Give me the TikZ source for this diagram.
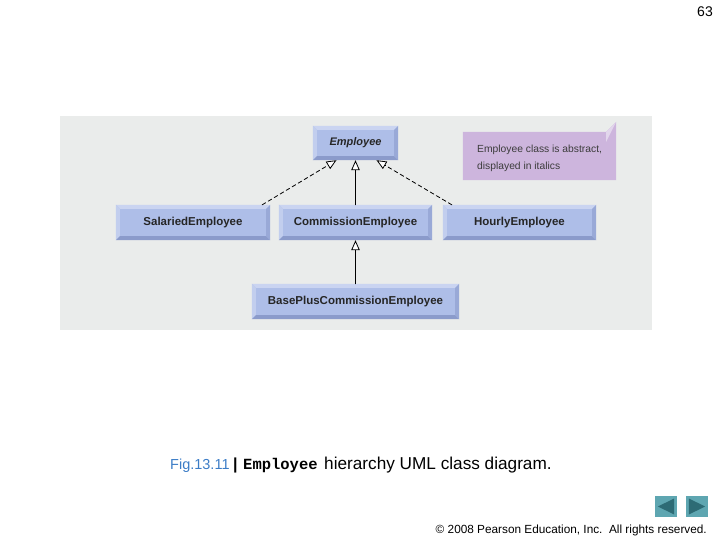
\documentclass[tikz,border=0pt]{standalone}
\usepackage{fontspec}
\setmainfont{Liberation Sans}
\setmonofont{Liberation Mono}
\usetikzlibrary{arrows.meta}

\definecolor{panelgray}{HTML}{EAECEB}
\definecolor{classfill}{HTML}{AEBEE8}
\definecolor{classlight}{HTML}{CAD4F1}
\definecolor{classdark}{HTML}{8B9BCB}
\definecolor{notefill}{HTML}{CDB5DD}
\definecolor{notefold}{HTML}{E2D6EC}
\definecolor{notetext}{HTML}{3C3C3C}
\definecolor{navteal}{HTML}{5EA6B1}
\definecolor{navdark}{HTML}{2D6B75}
\definecolor{figblue}{HTML}{3B7CC6}

% bevelled edges of a class box
\newcommand{\bevel}[1]{%
  \fill[classlight] (#1.north west) -- (#1.north east) -- ([shift={(-4,4)}]#1.north east) -- ([shift={(4,4)}]#1.north west) -- cycle;
  \fill[classlight!70!classfill] (#1.north west) -- ([shift={(4,4)}]#1.north west) -- ([shift={(4,-4)}]#1.south west) -- (#1.south west) -- cycle;
  \fill[classdark] (#1.south west) -- (#1.south east) -- ([shift={(-4,-4)}]#1.south east) -- ([shift={(4,-4)}]#1.south west) -- cycle;
  \fill[classdark!60!classfill] (#1.north east) -- (#1.south east) -- ([shift={(-4,-4)}]#1.south east) -- ([shift={(-4,4)}]#1.north east) -- cycle;
}

\begin{document}
\begin{tikzpicture}[x=1pt, y=-1pt, line cap=round, line join=round,
    classbox/.style={rectangle, fill=classfill, inner sep=0pt, minimum height=35pt,
      font=\bfseries\fontsize{11.5}{13}\selectfont, text=black!85},
    gen/.style={line width=0.8pt, -{Triangle[fill=white, length=10pt, width=8.5pt]}},
    dash line/.style={dash pattern=on 4pt off 3pt}]
  \useasboundingbox (0,0) rectangle (720,540);
  % panel
  \fill[panelgray] (60,116) rectangle (652,330);
  % classes
  \node[classbox, minimum width=85pt, minimum height=34pt, font=\bfseries\itshape\fontsize{11}{13}\selectfont] (emp) at (355.5,143) {Employee};
  \node[classbox, minimum width=154pt] (sal) at (193,222.5) {SalariedEmployee};
  \node[classbox, minimum width=153pt] (com) at (355.5,222.5) {CommissionEmployee};
  \node[classbox, minimum width=153pt] (hour) at (519.5,222.5) {HourlyEmployee};
  \node[classbox, minimum width=207pt] (base) at (355.5,301.5) {BasePlusCommissionEmployee};
  \foreach \n in {emp,sal,com,hour,base} {\bevel{\n}}
  % note
  \node[minimum width=153pt, minimum height=48pt, inner sep=0pt] (note) at (539.5,156) {};
  \fill[notefill] (note.north west) -- ([xshift=-10]note.north east) -- ([yshift=10]note.north east) -- (note.south east) -- (note.south west) -- cycle;
  \fill[notefold] ([xshift=-10]note.north east) -- ([shift={(-10,10)}]note.north east) -- ([yshift=10]note.north east) -- cycle;
  \node[anchor=base west, inner sep=0pt, align=left, text=notetext, font=\fontsize{10.3}{17.5}\selectfont] (notetxt) at (477,170) {Employee class is abstract,\\displayed in italics};
  % generalisations
  \draw[gen, dash line] ([xshift=-8]sal.north east) -- ([xshift=-19]emp.south);
  \draw[gen] (com.north) -- (emp.south);
  \draw[gen, dash line] ([xshift=9]hour.north west) -- ([xshift=21]emp.south);
  \draw[gen] (base.north) -- (com.south);
  % caption
  \node[anchor=base west, inner sep=0pt, text=figblue, font=\fontsize{14.5}{17}\selectfont] (fignum) at (170,469) {Fig.13.11};
  \node[anchor=base west, inner sep=0pt, font=\bfseries\fontsize{16}{18}\selectfont] (bar) at (233,469) {|};
  \node[anchor=base west, inner sep=0pt, font=\ttfamily\bfseries\fontsize{15.5}{18}\selectfont] (empword) at (243,469) {Employee};
  \node[anchor=base west, inner sep=0pt, font=\fontsize{17.2}{20}\selectfont] (captxt) at (324,469) {hierarchy UML class diagram.};
  % page number and footer
  \node[anchor=base east, inner sep=0pt, font=\fontsize{14}{16}\selectfont] (page) at (713,17) {63};
  \node[anchor=base east, inner sep=0pt, font=\fontsize{11.8}{14}\selectfont] (copy) at (707,533) {© 2008 Pearson Education, Inc.\ \ All rights reserved.};
  % navigation buttons
  \node[fill=navteal, minimum width=22pt, minimum height=21pt, inner sep=0pt] (prev) at (666,506.5) {};
  \node[fill=navteal, minimum width=22pt, minimum height=21pt, inner sep=0pt] (next) at (697,506.5) {};
  \fill[navdark] ([shift={(3,0)}]prev.west) -- ([shift={(-3,-8)}]prev.east) -- ([shift={(-3,8)}]prev.east) -- cycle;
  \fill[navdark] ([shift={(-3,0)}]next.east) -- ([shift={(3,-8)}]next.west) -- ([shift={(3,8)}]next.west) -- cycle;
\end{tikzpicture}
\end{document}
